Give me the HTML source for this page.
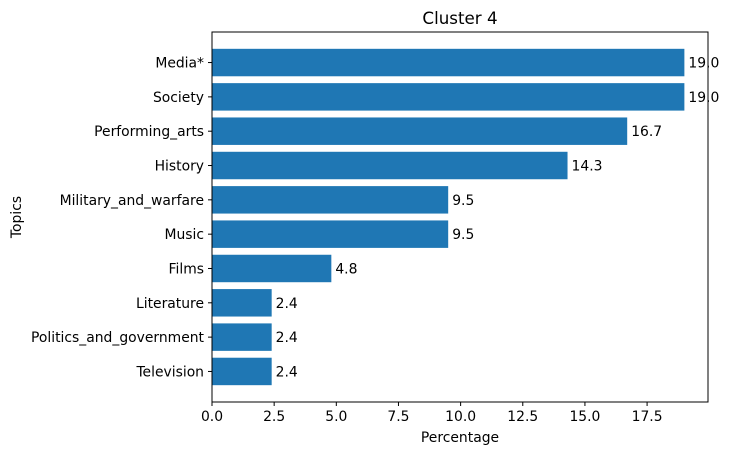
<!DOCTYPE html>
<html><head><meta charset="utf-8"><style>
body{margin:0;background:#fff;font-family:"DejaVu Sans","Liberation Sans",sans-serif;}
</style></head><body>
<svg id="chart" width="730" height="455" xmlns="http://www.w3.org/2000/svg" font-family="DejaVu Sans, Liberation Sans, sans-serif">
<rect width="730" height="455" fill="#fff"/>
<text x="460" y="24" text-anchor="middle" font-size="16.7" fill="#000">Cluster 4</text>
<g id="plot"></g>
<text x="460" y="442" text-anchor="middle" font-size="13.9" fill="#000">Percentage</text>
<text transform="translate(21,217) rotate(-90)" text-anchor="middle" font-size="13.9" fill="#000">Topics</text>
</svg>
<script>
const categories = ["Media*","Society","Performing_arts","History","Military_and_warfare","Music","Films","Literature","Politics_and_government","Television"];
const values = [19.0,19.0,16.7,14.3,9.5,9.5,4.8,2.4,2.4,2.4];
const xTicks = [0,2.5,5,7.5,10,12.5,15,17.5];
const NS="http://www.w3.org/2000/svg";
const L=212,R=708,T=32,B=402;
const xmax=Math.max(...values)*1.05;
const n=categories.length;
const span=(n-0.2)*1.1;
function x(v){return L+v/xmax*(R-L);}
function y(i){const pos=n-1-i; const lo=-0.4-(n-0.2)*0.05; return B-(pos-lo)/span*(B-T);}
const g=document.getElementById('plot');
function el(t,a,txt){const e=document.createElementNS(NS,t);for(const k in a)e.setAttribute(k,a[k]);if(txt!=null)e.textContent=txt;g.appendChild(e);return e;}
const bh=0.8/span*(B-T);
categories.forEach((c,i)=>{
  const cy=y(i);
  const r=el('rect',{x:L,y:cy-bh/2,width:x(values[i])-L,height:bh,fill:'#1f77b4'});
  
  
  const v=el('text',{x:x(values[i])+4,y:cy+5,'font-size':13.9,fill:'#000'},values[i].toFixed(1));
  
  
  el('line',{x1:L-4,x2:L,y1:cy,y2:cy,stroke:'#000'});
  const t=el('text',{x:L-8,y:cy+5,'font-size':13.9,'text-anchor':'end',fill:'#000'},c);
  
  
});
xTicks.forEach(v=>{
  el('line',{x1:x(v),x2:x(v),y1:B,y2:B+4,stroke:'#000'});
  const t=el('text',{x:x(v),y:B+19,'font-size':13.9,'text-anchor':'middle',fill:'#000'},v.toFixed(1));
  
  
});
const f=el('rect',{x:L,y:T,width:R-L,height:B-T,fill:'none',stroke:'#000','stroke-width':1});


</script>
</body></html>
